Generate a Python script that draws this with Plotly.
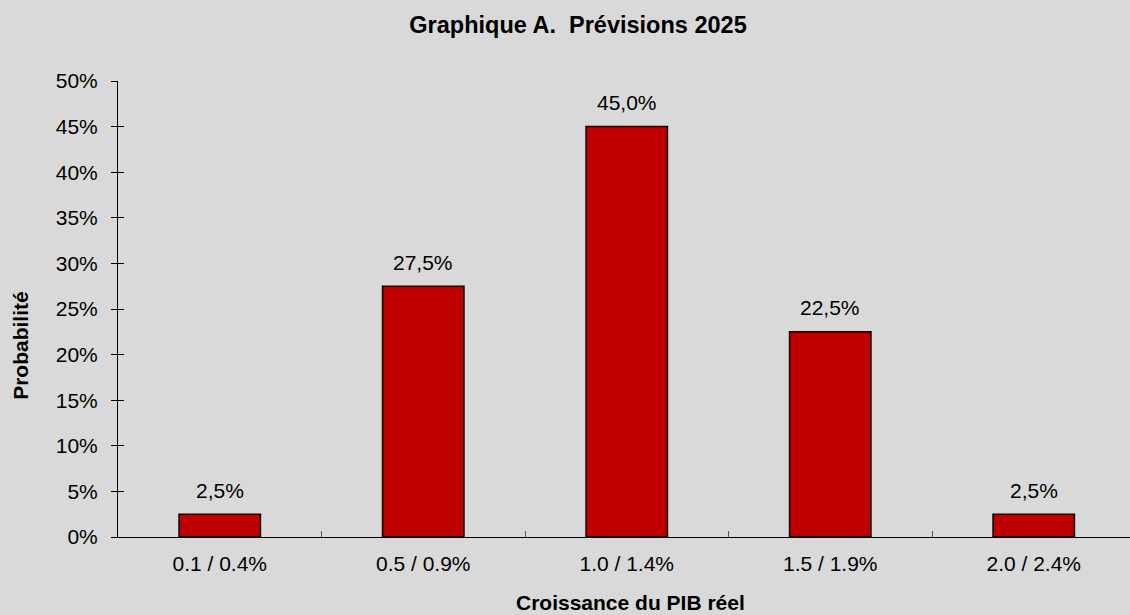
import plotly.graph_objects as go

categories = ["0.1 / 0.4%", "0.5 / 0.9%", "1.0 / 1.4%", "1.5 / 1.9%", "2.0 / 2.4%"]
probabilities = [2.5, 27.5, 45.0, 22.5, 2.5]
y_ticks = [0, 5, 10, 15, 20, 25, 30, 35, 40, 45, 50]
y_tick_labels = [f"{v}%" for v in y_ticks]
bar_labels = [f"{v:.1f}".replace(".", ",") + "%" for v in probabilities]

FONT = "Liberation Sans, Arial, sans-serif"
BG = "#D9D9D9"
FS = 21

fig = go.Figure()
fig.add_trace(go.Bar(
    x=categories, y=probabilities, width=0.4,
    marker=dict(color="#C00000", line=dict(color="#000000", width=1.5)),
    hoverinfo="skip", showlegend=False,
))
# invisible trace to anchor the overlay axis (for cross-style y ticks)
fig.add_trace(go.Scatter(x=[categories[0]], y=[0], yaxis="y2", mode="markers",
                         marker=dict(opacity=0), showlegend=False, hoverinfo="skip"))

for c, v, t in zip(categories, probabilities, bar_labels):
    fig.add_annotation(x=c, y=v, text=t, showarrow=False, yshift=24,
                       font=dict(family=FONT, size=FS, color="#000000"))

fig.update_layout(
    width=1130, height=615,
    paper_bgcolor=BG, plot_bgcolor=BG,
    margin=dict(l=118, r=0, t=81, b=78),
    font=dict(family=FONT, size=FS, color="#000000"),
    title=dict(text="<b>Graphique A.  Prévisions 2025</b>", x=578 / 1130, xanchor="center",
               y=1 - 25 / 615, yanchor="middle", font=dict(family=FONT, size=23.5)),
    xaxis=dict(type="category", range=[-0.5, 4.473], showline=True, linecolor="#000000",
               linewidth=1, ticks="inside", tickson="boundaries", ticklen=6,
               tickcolor="#555555", showgrid=False, zeroline=False,
               tickfont=dict(family=FONT, size=FS), ticklabelstandoff=8),
    yaxis=dict(range=[0, 50], tickvals=y_ticks, ticktext=y_tick_labels, showline=True,
               linecolor="#000000", linewidth=1, ticks="outside", ticklen=6,
               tickcolor="#000000", showgrid=False, zeroline=False,
               tickfont=dict(family=FONT, size=FS), ticklabelstandoff=9),
    yaxis2=dict(range=[0, 50], overlaying="y", anchor="x", side="left", tickvals=y_ticks,
                showticklabels=False, ticks="inside", ticklen=6, tickcolor="#000000",
                showline=False, showgrid=False, zeroline=False),
    bargap=0.6,
)

fig.add_annotation(text="<b>Probabilité</b>", xref="paper", yref="paper", x=-0.097,
                   y=1 - (345 - 81) / 456, textangle=-90, showarrow=False,
                   xanchor="center", yanchor="middle",
                   font=dict(family=FONT, size=FS))
fig.add_annotation(text="<b>Croissance du PIB réel</b>", xref="paper", yref="paper",
                   x=(630 - 118) / 1012, y=-(602 - 537) / 456, showarrow=False,
                   xanchor="center", yanchor="middle",
                   font=dict(family=FONT, size=FS))

fig.write_html("out.html", config={"displayModeBar": False},
               post_script="document.body.style.margin='0';document.body.style.padding='0';")
